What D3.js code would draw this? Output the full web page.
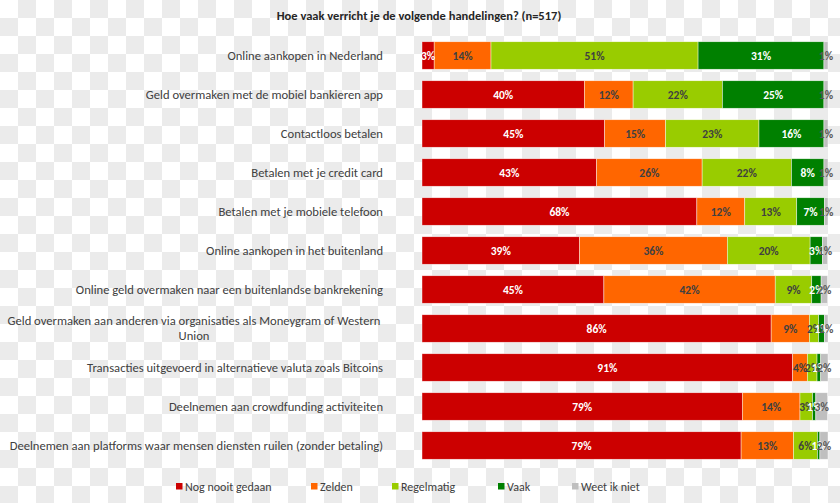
<!DOCTYPE html>
<html><head><meta charset="utf-8">
<script src="https://cdn.jsdelivr.net/npm/d3@7"></script>
<style>body{margin:0;background:#fff}svg{display:block}</style>
</head><body>
<script>
const categories = [
  "Online aankopen in Nederland",
  "Geld overmaken met de mobiel bankieren app",
  "Contactloos betalen",
  "Betalen met je credit card",
  "Betalen met je mobiele telefoon",
  "Online aankopen in het buitenland",
  "Online geld overmaken naar een buitenlandse bankrekening",
  "Geld overmaken aan anderen via organisaties als Moneygram of Western|Union",
  "Transacties uitgevoerd in alternatieve valuta zoals Bitcoins",
  "Deelnemen aan crowdfunding activiteiten",
  "Deelnemen aan platforms waar mensen diensten ruilen (zonder betaling)"
];
const seriesNames = ["Nog nooit gedaan", "Zelden", "Regelmatig", "Vaak", "Weet ik niet"];
const nooit      = [3, 40, 45, 43, 67.7, 38.8, 44.8, 86.0, 91.3, 78.9, 78.6];
const zelden     = [14, 12, 15, 26, 11.8, 36.4, 42.2, 9.4, 3.6, 14.2, 12.9];
const regelmatig = [51, 22, 23, 22, 12.8, 20.4, 9.0, 2.3, 2.4, 3.1, 5.9];
const vaak       = [31, 25, 16, 8, 6.8, 3.0, 2.3, 1.4, 0.9, 0.8, 0.6];
const weet       = [1, 1, 1, 1, 0.9, 1.3, 1.6, 0.9, 1.8, 2.9, 2.0];
const title = "Hoe vaak verricht je de volgende handelingen?  (n=517)";

const colors = ["#cc0000", "#ff6600", "#99cc00", "#008000", "#bfbfbf"];
const labelColors = ["#ffffff", "#404040", "#404040", "#ffffff", "#595959"];

const W = 840, H = 503;
const svg = d3.select("body").append("svg").attr("width", W).attr("height", H)
  .style("font-family", "Carlito, Calibri, Lato, 'Open Sans', sans-serif");

// checkerboard background
const defs = svg.append("defs");
const pat = defs.append("pattern").attr("id", "chk").attr("patternUnits", "userSpaceOnUse")
  .attr("width", 36).attr("height", 36);
pat.append("rect").attr("width", 36).attr("height", 36).attr("fill", "#ffffff");
pat.append("rect").attr("x", 18).attr("y", 0).attr("width", 18).attr("height", 18).attr("fill", "#ebebeb");
pat.append("rect").attr("x", 0).attr("y", 18).attr("width", 18).attr("height", 18).attr("fill", "#ebebeb");
svg.append("rect").attr("width", W).attr("height", H).attr("fill", "url(#chk)");
defs.append("clipPath").attr("id", "plotclip").append("rect")
  .attr("x", 421).attr("y", 0).attr("width", W - 421).attr("height", H);

const rows = categories.map((c, i) => ({
  cat: c, vals: [nooit[i], zelden[i], regelmatig[i], vaak[i], weet[i]]
}));

const x = d3.scaleLinear().domain([0, 100]).range([422, 828]);
const y = d3.scaleBand().domain(categories).range([36, 465]).paddingInner(0.295).paddingOuter(0.1475);

const fmt = v => Math.round(v) + "%";

rows.forEach(r => {
  let acc = 0;
  r.segs = r.vals.map((v, k) => { const s = {k, v, x0: acc, x1: acc + v}; acc += v; return s; });
});

const g = svg.append("g");
rows.forEach(r => {
  g.selectAll(null).data(r.segs).enter().append("rect")
    .attr("x", d => x(d.x0)).attr("y", y(r.cat))
    .attr("width", d => x(d.x1) - x(d.x0)).attr("height", y.bandwidth())
    .attr("fill", d => colors[d.k])
    .attr("stroke", "#ffffff").attr("stroke-width", 0.6).attr("stroke-opacity", 0.7);
});
const lg2 = svg.append("g").attr("clip-path", "url(#plotclip)");
rows.forEach(r => {
  lg2.selectAll(null).data(r.segs).enter().append("text")
    .attr("x", d => x((d.x0 + d.x1) / 2)).attr("y", y(r.cat) + y.bandwidth() / 2)
    .attr("dy", "0.35em").attr("text-anchor", "middle")
    .attr("font-size", 11.5).attr("font-weight", "bold")
    .attr("fill", d => labelColors[d.k]).text(d => fmt(d.v));
});

// category labels
rows.forEach(r => {
  const lines = r.cat.split("|");
  const cy = y(r.cat) + y.bandwidth() / 2;
  if (lines.length === 1) {
    svg.append("text").attr("x", 383).attr("y", cy).attr("dy", "0.35em")
      .attr("text-anchor", "end").attr("font-size", 12.6).attr("fill", "#404040").text(lines[0]);
  } else {
    const t = svg.append("text").attr("font-size", 12.6).attr("fill", "#404040").attr("text-anchor", "middle");
    lines.forEach((ln, j) => {
      t.append("tspan").attr("x", 194).attr("y", cy + (j - (lines.length - 1) / 2) * 15).attr("dy", "0.35em").text(ln);
    });
  }
});

// title
svg.append("text").attr("x", 419).attr("y", 16).attr("dy", "0.35em").attr("text-anchor", "middle")
  .attr("font-size", 12.5).attr("font-weight", "bold").attr("fill", "#262626").text(title);

// legend
const legX = [176, 311, 392, 498, 572];
const lg = svg.append("g");
seriesNames.forEach((n, k) => {
  lg.append("rect").attr("x", legX[k]).attr("y", 483).attr("width", 6.5).attr("height", 6.5).attr("fill", colors[k]);
  lg.append("text").attr("x", legX[k] + 9).attr("y", 486.5).attr("dy", "0.35em")
    .attr("font-size", 12).attr("fill", "#404040").text(n);
});
</script>
</body></html>
